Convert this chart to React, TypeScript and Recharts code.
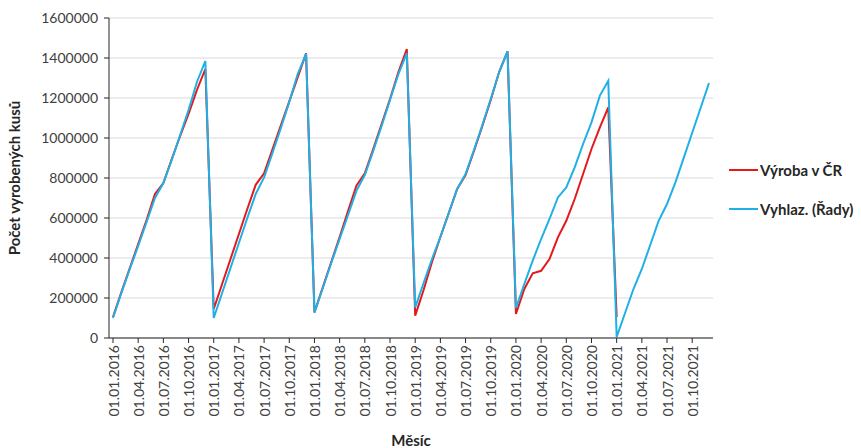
import React from "react";
import { CartesianGrid, Legend, Line, LineChart, XAxis, YAxis } from "recharts";

const years = ["2016", "2017", "2018", "2019", "2020", "2021"];
const monthCodes = ["01", "02", "03", "04", "05", "06", "07", "08", "09", "10", "11", "12"];

// kumulativní výroba v ČR (leden 2016 - leden 2021)
const vyrobaCR = [
  105000, 230000, 350000, 470000, 590000, 720000, 775000, 895000, 1010000, 1120000, 1240000, 1345000,
  145000, 270000, 395000, 520000, 645000, 766000, 823000, 943000, 1063000, 1183000, 1303000, 1423000,
  128000, 255000, 380000, 505000, 635000, 761000, 823000, 945000, 1070000, 1195000, 1330000, 1445000,
  112000, 240000, 380000, 505000, 625000, 745000, 815000, 935000, 1060000, 1190000, 1330000, 1433000,
  120000, 245000, 323000, 336000, 395000, 503000, 586000, 695000, 820000, 945000, 1053000, 1153000,
  105000,
];

// vyhlazená řada (leden 2016 - prosinec 2021)
const vyhlazeni = [
  100000, 225000, 345000, 460000, 580000, 700000, 775000, 890000, 1015000, 1140000, 1280000, 1385000,
  100000, 225000, 350000, 475000, 600000, 720000, 803000, 925000, 1050000, 1180000, 1320000, 1420000,
  128000, 250000, 375000, 495000, 615000, 736000, 815000, 935000, 1060000, 1190000, 1320000, 1423000,
  153000, 275000, 395000, 505000, 625000, 745000, 820000, 940000, 1065000, 1195000, 1330000, 1433000,
  150000, 270000, 387000, 495000, 595000, 703000, 753000, 853000, 970000, 1078000, 1212000, 1286000,
  5000, 125000, 245000, 345000, 465000, 586000, 670000, 778000, 902000, 1026000, 1150000, 1275000,
];

const yTicks = [0, 200000, 400000, 600000, 800000, 1000000, 1200000, 1400000, 1600000];

const series = [
  { key: "vyroba", name: "Výroba v ČR", color: "#e3191c" },
  { key: "vyhlaz", name: "Vyhlaz. (Řady)", color: "#1fb0e6" },
];

const months = years.flatMap((y) => monthCodes.map((m) => `01.${m}.${y}`));
const data = months.map((month, i) => ({
  month,
  vyroba: vyrobaCR[i],
  vyhlaz: vyhlazeni[i],
}));

const font = "Lato, 'Open Sans', sans-serif";
const textColor = "#404040";

const MonthTick = ({ x, y, payload }: any) => (
  <text
    x={x}
    y={y}
    transform={`rotate(-90, ${x}, ${y})`}
    textAnchor="end"
    dominantBaseline="central"
    fontFamily={font}
    fontSize={14}
    fill={textColor}
  >
    {payload.value}
  </text>
);

const renderLegend = () => (
  <div style={{ fontFamily: font, fontSize: 15, fontWeight: 700, color: "#262626" }}>
    {series.map((s) => (
      <div key={s.key} style={{ display: "flex", alignItems: "center", height: 39 }}>
        <span style={{ width: 29, height: 2, background: s.color, marginRight: 2 }} />
        {s.name}
      </div>
    ))}
  </div>
);

export default function App() {
  return (
    <div style={{ position: "absolute", left: 0, top: 0 }}>
      <LineChart
        width={861}
        height={448}
        data={data}
        margin={{ top: 18, right: 148, left: 0, bottom: 0 }}
      >
        <CartesianGrid vertical={false} stroke="#d9d9d9" />
        <XAxis
          dataKey="month"
          interval={2}
          height={110}
          padding={{ left: 4, right: 4 }}
          tick={<MonthTick />}
          tickSize={5}
          tickMargin={2}
          stroke="#262626"
          label={{
            value: "Měsíc",
            position: "insideBottom",
            offset: 2,
            style: { fontFamily: font, fontSize: 15, fontWeight: 700, fill: "#262626" },
          }}
        />
        <YAxis
          domain={[0, 1600000]}
          ticks={yTicks}
          width={109}
          tickSize={5}
          tickMargin={6}
          stroke="#262626"
          tick={{ fontFamily: font, fontSize: 14, fill: textColor }}
          label={{
            value: "Počet vyrobených kusů",
            angle: -90,
            position: "insideLeft",
            dx: 10,
            style: { fontFamily: font, fontSize: 15, fontWeight: 700, fill: "#262626", textAnchor: "middle" },
          }}
        />
        <Legend
          layout="vertical"
          align="center"
          verticalAlign="middle"
          content={renderLegend}
          wrapperStyle={{ left: 729, top: 150, width: "auto" }}
        />
        {series.map((s) => (
          <Line
            key={s.key}
            dataKey={s.key}
            name={s.name}
            stroke={s.color}
            strokeWidth={2}
            dot={false}
            isAnimationActive={false}
          />
        ))}
      </LineChart>
    </div>
  );
}
